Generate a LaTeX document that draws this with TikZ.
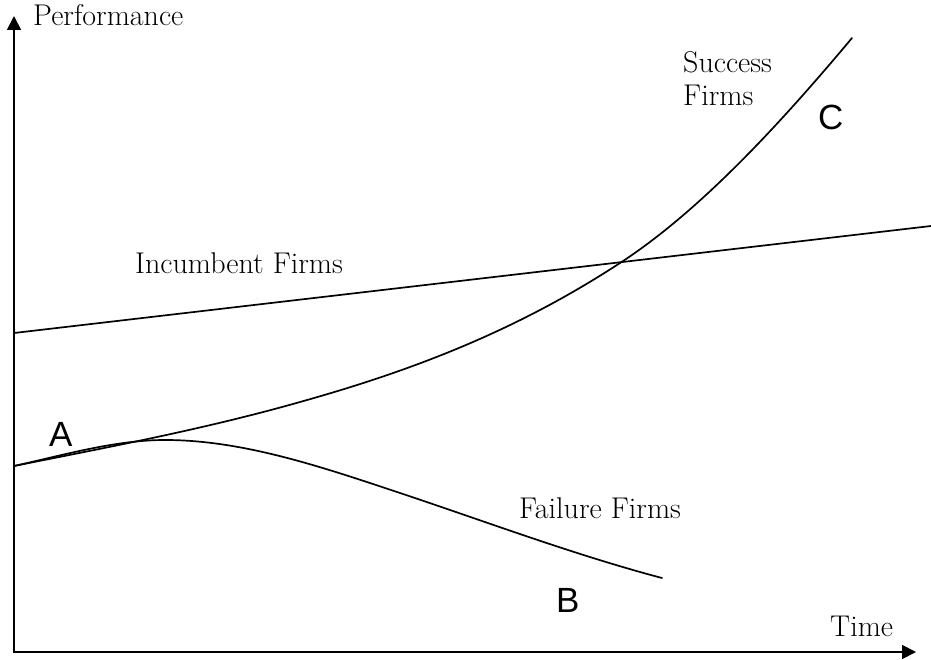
\documentclass[tikz,border=0pt]{standalone}
\usepackage{fontspec}
\newfontfamily\labelsans{Liberation Sans}
\usetikzlibrary{arrows.meta}
\begin{document}
\begin{tikzpicture}[x=1pt,y=-1pt,
  axis/.style={line width=1.8pt,-{Triangle[length=14pt,width=14pt]}},
  curve/.style={line width=1.7pt,line cap=round},
  serif/.style={anchor=base west,inner sep=0pt,font=\fontsize{30}{33}\selectfont},
  letter/.style={anchor=south west,inner sep=0pt,font=\labelsans\fontsize{35}{40}\selectfont}]
\useasboundingbox (0,0) rectangle (931,660);
\coordinate (O) at (14,652);
\coordinate (ytop) at (14,16);
\coordinate (xend) at (916,652);
\coordinate (incL) at (14,333);
\coordinate (incR) at (931,226);
\coordinate (start) at (14,466);
\coordinate (s1) at (300,402);
\coordinate (s2) at (620,263);
\coordinate (s3) at (852,38);
\coordinate (f1) at (165,440);
\coordinate (f2) at (400,493);
\coordinate (f3) at (662,578);
% axes
\draw[axis] ([yshift=-1pt]O) -- (ytop);
\draw[axis] ([xshift=-1pt]O) -- (xend);
% incumbent
\draw[curve] (incL) -- (incR);
% success
\draw[curve] (start) .. controls (109,447) and (205,429) .. (s1)
  .. controls (407,372) and (513,333) .. (s2)
  .. controls (697,213) and (775,130) .. (s3);
% failure
\draw[curve] (start) .. controls (64,455) and (115,440) .. (f1)
  .. controls (243,440) and (322,467) .. (f2)
  .. controls (487,522) and (575,555) .. (f3);
% labels
\node[serif] (perf) at (33,26) {Performance};
\node[serif] (time) at (830,636) {Time};
\node[serif] (inc) at (135,273) {Incumbent Firms};
\node[serif] (succ1) at (683,73) {Success};
\node[serif] (succ2) at (683,106) {Firms};
\node[serif] (fail) at (519,518) {Failure Firms};
\node[letter] (A) at (49,447) {A};
\node[letter] (B) at (556,613) {B};
\node[letter] (C) at (818,130) {C};
\end{tikzpicture}
\end{document}
